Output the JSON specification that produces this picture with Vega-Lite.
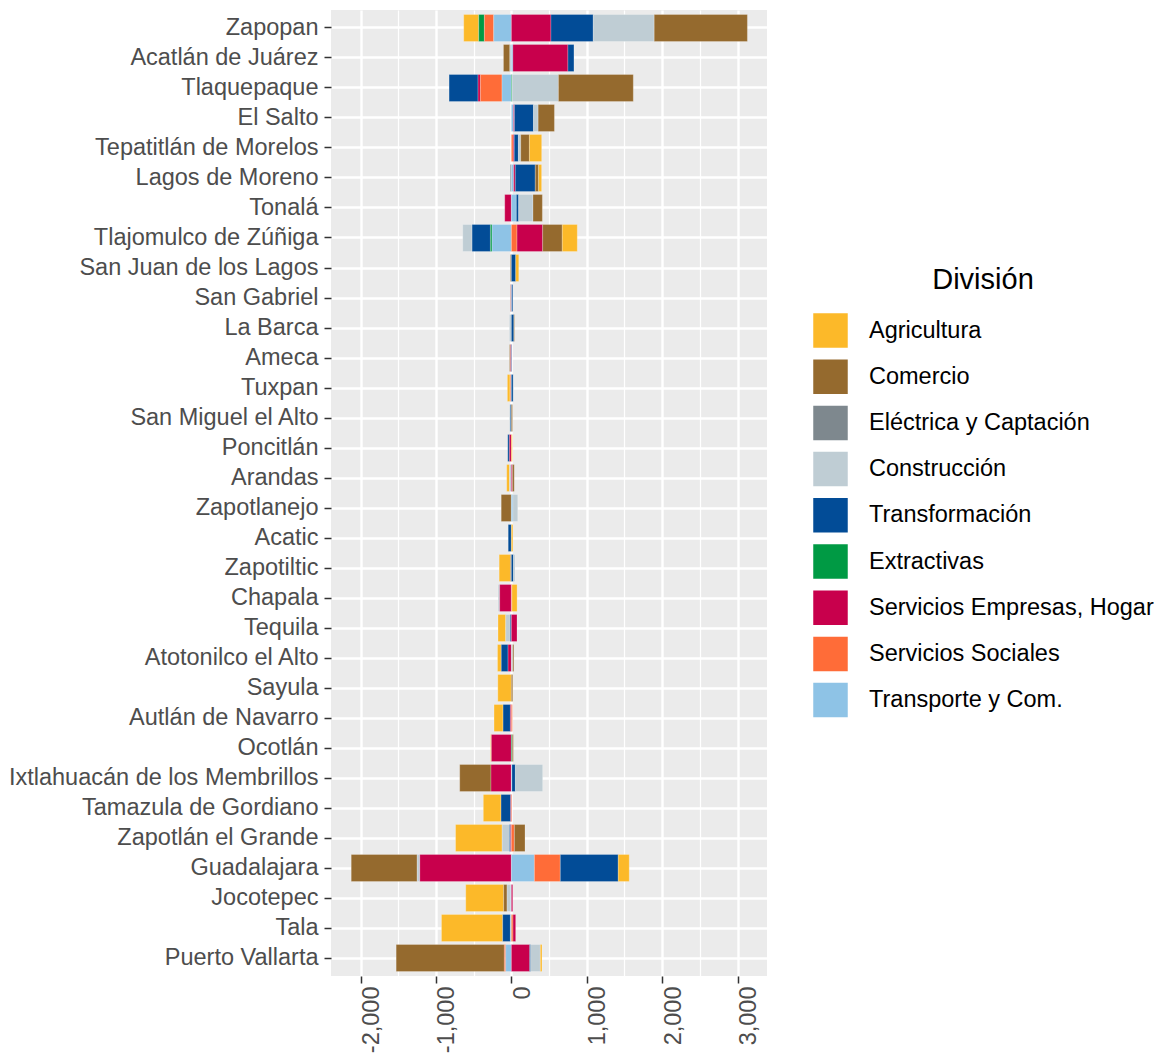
{
  "$schema": "https://vega.github.io/schema/vega-lite/v6.json",
  "width": 436,
  "height": 966,
  "padding": {"left": 8, "top": 10, "right": 0, "bottom": 0},
  "background": "white",
  "config": {
    "view": {"fill": "#EBEBEB", "stroke": null},
    "axis": {
      "labelFont": "Liberation Sans",
      "labelFontSize": 23.5,
      "labelColor": "#4D4D4D",
      "labelLimit": 400,
      "tickColor": "#333333",
      "tickWidth": 1.5,
      "tickSize": 7,
      "domain": false,
      "gridColor": "#FFFFFF",
      "title": null
    },
    "legend": {
      "labelFont": "Liberation Sans",
      "titleFont": "Liberation Sans"
    }
  },
  "data": {
    "values": [
      {"m": "Zapopan", "d": "Agricultura", "v": -199},
      {"m": "Zapopan", "d": "Extractivas", "v": -75},
      {"m": "Zapopan", "d": "Servicios Sociales", "v": -124},
      {"m": "Zapopan", "d": "Transporte y Com.", "v": -234},
      {"m": "Zapopan", "d": "Servicios Empresas, Hogar", "v": 525},
      {"m": "Zapopan", "d": "Transformación", "v": 561},
      {"m": "Zapopan", "d": "Construcción", "v": 808},
      {"m": "Zapopan", "d": "Comercio", "v": 1236},
      {"m": "Acatlán de Juárez", "d": "Comercio", "v": -85},
      {"m": "Acatlán de Juárez", "d": "Construcción", "v": -20},
      {"m": "Acatlán de Juárez", "d": "Transporte y Com.", "v": 20},
      {"m": "Acatlán de Juárez", "d": "Servicios Empresas, Hogar", "v": 730},
      {"m": "Acatlán de Juárez", "d": "Transformación", "v": 80},
      {"m": "Tlaquepaque", "d": "Transformación", "v": -384},
      {"m": "Tlaquepaque", "d": "Servicios Empresas, Hogar", "v": -31},
      {"m": "Tlaquepaque", "d": "Servicios Sociales", "v": -287},
      {"m": "Tlaquepaque", "d": "Transporte y Com.", "v": -124},
      {"m": "Tlaquepaque", "d": "Extractivas", "v": 10},
      {"m": "Tlaquepaque", "d": "Construcción", "v": 614},
      {"m": "Tlaquepaque", "d": "Comercio", "v": 993},
      {"m": "El Salto", "d": "Transporte y Com.", "v": 28},
      {"m": "El Salto", "d": "Servicios Empresas, Hogar", "v": 13},
      {"m": "El Salto", "d": "Transformación", "v": 252},
      {"m": "El Salto", "d": "Construcción", "v": 62},
      {"m": "El Salto", "d": "Comercio", "v": 216},
      {"m": "Tepatitlán de Morelos", "d": "Servicios Sociales", "v": 25},
      {"m": "Tepatitlán de Morelos", "d": "Servicios Empresas, Hogar", "v": 13},
      {"m": "Tepatitlán de Morelos", "d": "Transformación", "v": 55},
      {"m": "Tepatitlán de Morelos", "d": "Construcción", "v": 31},
      {"m": "Tepatitlán de Morelos", "d": "Comercio", "v": 115},
      {"m": "Tepatitlán de Morelos", "d": "Agricultura", "v": 163},
      {"m": "Lagos de Moreno", "d": "Eléctrica y Captación", "v": -15},
      {"m": "Lagos de Moreno", "d": "Transporte y Com.", "v": 30},
      {"m": "Lagos de Moreno", "d": "Servicios Empresas, Hogar", "v": 22},
      {"m": "Lagos de Moreno", "d": "Transformación", "v": 265},
      {"m": "Lagos de Moreno", "d": "Comercio", "v": 44},
      {"m": "Lagos de Moreno", "d": "Agricultura", "v": 40},
      {"m": "Tonalá", "d": "Servicios Empresas, Hogar", "v": -88},
      {"m": "Tonalá", "d": "Transporte y Com.", "v": 66},
      {"m": "Tonalá", "d": "Transformación", "v": 31},
      {"m": "Tonalá", "d": "Construcción", "v": 190},
      {"m": "Tonalá", "d": "Comercio", "v": 124},
      {"m": "Tlajomulco de Zúñiga", "d": "Construcción", "v": -124},
      {"m": "Tlajomulco de Zúñiga", "d": "Transformación", "v": -243},
      {"m": "Tlajomulco de Zúñiga", "d": "Extractivas", "v": -22},
      {"m": "Tlajomulco de Zúñiga", "d": "Transporte y Com.", "v": -256},
      {"m": "Tlajomulco de Zúñiga", "d": "Servicios Sociales", "v": 75},
      {"m": "Tlajomulco de Zúñiga", "d": "Servicios Empresas, Hogar", "v": 340},
      {"m": "Tlajomulco de Zúñiga", "d": "Comercio", "v": 260},
      {"m": "Tlajomulco de Zúñiga", "d": "Agricultura", "v": 199},
      {"m": "San Juan de los Lagos", "d": "Comercio", "v": -13},
      {"m": "San Juan de los Lagos", "d": "Transformación", "v": 58},
      {"m": "San Juan de los Lagos", "d": "Agricultura", "v": 40},
      {"m": "San Gabriel", "d": "Comercio", "v": -6},
      {"m": "San Gabriel", "d": "Servicios Empresas, Hogar", "v": -7},
      {"m": "San Gabriel", "d": "Transporte y Com.", "v": 4},
      {"m": "San Gabriel", "d": "Transformación", "v": 15},
      {"m": "La Barca", "d": "Construcción", "v": -26},
      {"m": "La Barca", "d": "Transformación", "v": 33},
      {"m": "La Barca", "d": "Comercio", "v": 8},
      {"m": "Ameca", "d": "Comercio", "v": -14},
      {"m": "Ameca", "d": "Servicios Empresas, Hogar", "v": -10},
      {"m": "Ameca", "d": "Transformación", "v": 6},
      {"m": "Tuxpan", "d": "Agricultura", "v": -35},
      {"m": "Tuxpan", "d": "Servicios Sociales", "v": -12},
      {"m": "Tuxpan", "d": "Transporte y Com.", "v": -6},
      {"m": "Tuxpan", "d": "Transformación", "v": 25},
      {"m": "Tuxpan", "d": "Construcción", "v": 4},
      {"m": "San Miguel el Alto", "d": "Construcción", "v": -12},
      {"m": "San Miguel el Alto", "d": "Transformación", "v": -14},
      {"m": "San Miguel el Alto", "d": "Comercio", "v": 15},
      {"m": "Poncitlán", "d": "Transformación", "v": -22},
      {"m": "Poncitlán", "d": "Servicios Empresas, Hogar", "v": -26},
      {"m": "Poncitlán", "d": "Agricultura", "v": 12},
      {"m": "Arandas", "d": "Agricultura", "v": -38},
      {"m": "Arandas", "d": "Construcción", "v": -24},
      {"m": "Arandas", "d": "Servicios Empresas, Hogar", "v": 14},
      {"m": "Arandas", "d": "Comercio", "v": 24},
      {"m": "Zapotlanejo", "d": "Comercio", "v": -135},
      {"m": "Zapotlanejo", "d": "Transporte y Com.", "v": 20},
      {"m": "Zapotlanejo", "d": "Construcción", "v": 65},
      {"m": "Acatic", "d": "Transformación", "v": -42},
      {"m": "Acatic", "d": "Agricultura", "v": 20},
      {"m": "Zapotiltic", "d": "Agricultura", "v": -150},
      {"m": "Zapotiltic", "d": "Comercio", "v": -12},
      {"m": "Zapotiltic", "d": "Transformación", "v": 28},
      {"m": "Zapotiltic", "d": "Construcción", "v": 20},
      {"m": "Chapala", "d": "Construcción", "v": -20},
      {"m": "Chapala", "d": "Servicios Empresas, Hogar", "v": -155},
      {"m": "Chapala", "d": "Servicios Sociales", "v": 8},
      {"m": "Chapala", "d": "Agricultura", "v": 68},
      {"m": "Tequila", "d": "Agricultura", "v": -102},
      {"m": "Tequila", "d": "Construcción", "v": -60},
      {"m": "Tequila", "d": "Transformación", "v": -15},
      {"m": "Tequila", "d": "Servicios Empresas, Hogar", "v": 75},
      {"m": "Atotonilco el Alto", "d": "Agricultura", "v": -50},
      {"m": "Atotonilco el Alto", "d": "Transformación", "v": -90},
      {"m": "Atotonilco el Alto", "d": "Servicios Empresas, Hogar", "v": -44},
      {"m": "Atotonilco el Alto", "d": "Construcción", "v": 18},
      {"m": "Atotonilco el Alto", "d": "Comercio", "v": 15},
      {"m": "Sayula", "d": "Agricultura", "v": -180},
      {"m": "Sayula", "d": "Comercio", "v": 18},
      {"m": "Autlán de Navarro", "d": "Agricultura", "v": -120},
      {"m": "Autlán de Navarro", "d": "Transformación", "v": -97},
      {"m": "Autlán de Navarro", "d": "Servicios Empresas, Hogar", "v": -13},
      {"m": "Autlán de Navarro", "d": "Servicios Sociales", "v": 13},
      {"m": "Ocotlán", "d": "Agricultura", "v": -10},
      {"m": "Ocotlán", "d": "Servicios Empresas, Hogar", "v": -265},
      {"m": "Ocotlán", "d": "Extractivas", "v": 12},
      {"m": "Ocotlán", "d": "Comercio", "v": 14},
      {"m": "Ixtlahuacán de los Membrillos", "d": "Comercio", "v": -415},
      {"m": "Ixtlahuacán de los Membrillos", "d": "Servicios Empresas, Hogar", "v": -270},
      {"m": "Ixtlahuacán de los Membrillos", "d": "Transporte y Com.", "v": 8},
      {"m": "Ixtlahuacán de los Membrillos", "d": "Transformación", "v": 45},
      {"m": "Ixtlahuacán de los Membrillos", "d": "Construcción", "v": 362},
      {"m": "Tamazula de Gordiano", "d": "Agricultura", "v": -235},
      {"m": "Tamazula de Gordiano", "d": "Transformación", "v": -128},
      {"m": "Tamazula de Gordiano", "d": "Servicios Empresas, Hogar", "v": -9},
      {"m": "Tamazula de Gordiano", "d": "Servicios Sociales", "v": 8},
      {"m": "Zapotlán el Grande", "d": "Agricultura", "v": -618},
      {"m": "Zapotlán el Grande", "d": "Construcción", "v": -97},
      {"m": "Zapotlán el Grande", "d": "Transformación", "v": -15},
      {"m": "Zapotlán el Grande", "d": "Servicios Empresas, Hogar", "v": -10},
      {"m": "Zapotlán el Grande", "d": "Servicios Sociales", "v": 40},
      {"m": "Zapotlán el Grande", "d": "Comercio", "v": 141},
      {"m": "Guadalajara", "d": "Comercio", "v": -875},
      {"m": "Guadalajara", "d": "Construcción", "v": -35},
      {"m": "Guadalajara", "d": "Servicios Empresas, Hogar", "v": -1214},
      {"m": "Guadalajara", "d": "Transporte y Com.", "v": 305},
      {"m": "Guadalajara", "d": "Servicios Sociales", "v": 344},
      {"m": "Guadalajara", "d": "Transformación", "v": 768},
      {"m": "Guadalajara", "d": "Agricultura", "v": 146},
      {"m": "Jocotepec", "d": "Agricultura", "v": -503},
      {"m": "Jocotepec", "d": "Comercio", "v": -45},
      {"m": "Jocotepec", "d": "Construcción", "v": -48},
      {"m": "Jocotepec", "d": "Transporte y Com.", "v": -9},
      {"m": "Jocotepec", "d": "Servicios Empresas, Hogar", "v": 18},
      {"m": "Tala", "d": "Agricultura", "v": -812},
      {"m": "Tala", "d": "Transformación", "v": -102},
      {"m": "Tala", "d": "Transporte y Com.", "v": -13},
      {"m": "Tala", "d": "Servicios Sociales", "v": 22},
      {"m": "Tala", "d": "Servicios Empresas, Hogar", "v": 35},
      {"m": "Puerto Vallarta", "d": "Comercio", "v": -1435},
      {"m": "Puerto Vallarta", "d": "Servicios Sociales", "v": -18},
      {"m": "Puerto Vallarta", "d": "Transporte y Com.", "v": -75},
      {"m": "Puerto Vallarta", "d": "Servicios Empresas, Hogar", "v": 243},
      {"m": "Puerto Vallarta", "d": "Transformación", "v": 13},
      {"m": "Puerto Vallarta", "d": "Construcción", "v": 128},
      {"m": "Puerto Vallarta", "d": "Agricultura", "v": 22}
    ]
  },
  "transform": [
    {"calculate": "indexof(['Agricultura','Comercio','Eléctrica y Captación','Construcción','Transformación','Extractivas','Servicios Empresas, Hogar','Servicios Sociales','Transporte y Com.'], datum.d)", "as": "k"}
  ],
  "encoding": {
    "y": {
      "field": "m",
      "type": "nominal",
      "sort": ["Zapopan", "Acatlán de Juárez", "Tlaquepaque", "El Salto", "Tepatitlán de Morelos", "Lagos de Moreno", "Tonalá", "Tlajomulco de Zúñiga", "San Juan de los Lagos", "San Gabriel", "La Barca", "Ameca", "Tuxpan", "San Miguel el Alto", "Poncitlán", "Arandas", "Zapotlanejo", "Acatic", "Zapotiltic", "Chapala", "Tequila", "Atotonilco el Alto", "Sayula", "Autlán de Navarro", "Ocotlán", "Ixtlahuacán de los Membrillos", "Tamazula de Gordiano", "Zapotlán el Grande", "Guadalajara", "Jocotepec", "Tala", "Puerto Vallarta"],
      "scale": {"paddingInner": 0.1, "paddingOuter": 0.15},
      "axis": {"grid": true, "gridWidth": 2.4, "labelPadding": 6, "bandPosition": 0.5}
    }
  },
  "layer": [
    {
      "mark": {"type": "bar", "opacity": 0},
      "encoding": {
        "x": {
          "field": "v",
          "type": "quantitative",
          "scale": {"domain": [-2392, 3390], "nice": false, "zero": false},
          "axis": {"orient": "top", "values": [-1500, -500, 500, 1500, 2500], "grid": true, "gridWidth": 1.2, "labels": false, "ticks": false, "domain": false}
        }
      }
    },
    {
      "mark": {"type": "bar", "stroke": "#FFFFFF", "strokeWidth": 0.4, "strokeOpacity": 0.6},
      "encoding": {
        "x": {
          "field": "v",
          "type": "quantitative",
          "stack": "zero",
          "scale": {"domain": [-2392, 3390], "nice": false, "zero": false},
          "axis": {"orient": "bottom", "values": [-2000, -1000, 0, 1000, 2000, 3000], "labelExpr": "replace(format(datum.value, ',d'), '−', '-')", "labelAngle": -90, "labelOffset": 11, "labelPadding": 3, "grid": true, "gridWidth": 2.4}
        },
        "color": {
          "field": "d",
          "type": "nominal",
          "title": "División",
          "scale": {
            "domain": ["Agricultura", "Comercio", "Eléctrica y Captación", "Construcción", "Transformación", "Extractivas", "Servicios Empresas, Hogar", "Servicios Sociales", "Transporte y Com."],
            "range": ["#FCB929", "#956A2E", "#7E888E", "#BFCDD4", "#024C97", "#009A44", "#C8004C", "#FF6C38", "#8EC3E6"]
          },
          "legend": {
            "orient": "none",
            "legendX": 482,
            "legendY": 256,
            "symbolType": "square",
            "symbolSize": 1190,
            "symbolStrokeWidth": 0,
            "symbolOpacity": 1,
            "rowPadding": 11.2,
            "labelOffset": 21,
            "labelFontSize": 23.5,
            "labelColor": "#000000",
            "labelLimit": 400,
            "titleFontSize": 29,
            "titleFontWeight": "normal",
            "titleColor": "#000000",
            "titleAnchor": "middle",
            "titlePadding": 18
          }
        },
        "order": {"field": "k", "sort": "descending"}
      }
    }
  ],
  "resolve": {"axis": {"x": "independent"}}
}
